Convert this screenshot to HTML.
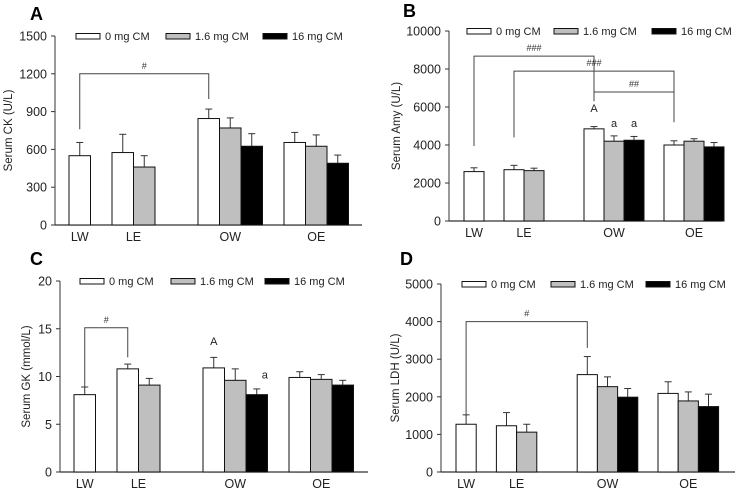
<!DOCTYPE html>
<html><head><meta charset="utf-8"><style>
html,body{margin:0;padding:0;background:#fff}
svg{display:block;font-family:"Liberation Sans",Arial,sans-serif}
</style></head><body>
<svg id="fig" width="738" height="488" viewBox="0 0 738 488"></svg>
<script>
const categories = ["LW","LE","OW","OE"];
const seriesNames = ["0 mg CM","1.6 mg CM","16 mg CM"];
// values per group, null = no bar
const ckMeans = [[550,null,null],[575,460,null],[845,770,625],[655,625,490]];
const ckErr   = [[105,null,null],[145,90,null],[75,80,100],[80,90,65]];
const amyMeans = [[2600,null,null],[2700,2650,null],[4850,4200,4250],[4000,4200,3900]];
const amyErr   = [[200,null,null],[230,130,null],[120,280,200],[220,130,230]];
const gkMeans = [[8.1,null,null],[10.8,9.1,null],[10.9,9.6,8.1],[9.9,9.7,9.1]];
const gkErr   = [[0.8,null,null],[0.5,0.7,null],[1.1,1.2,0.6],[0.6,0.5,0.5]];
const ldhMeans = [[1270,null,null],[1230,1060,null],[2590,2270,1990],[2090,1890,1740]];
const ldhErr   = [[250,null,null],[350,210,null],[480,260,230],[310,240,330]];
const ckTicks = [0,300,600,900,1200,1500];
const amyTicks = [0,2000,4000,6000,8000,10000];
const gkTicks = [0,5,10,15,20];
const ldhTicks = [0,1000,2000,3000,4000,5000];
// brackets: [groupA, barA, bottomA, groupB, barB, bottomB, top, label]
const ckBrackets = [[0,0,760,2,0,1000,1200,"#"]];
const amyBrackets = [[0,0,3950,2,0,6300,8680,"###"],[1,0,4400,3,0,5200,7890,"###"],[2,0,6790,3,0,6000,6790,"##"]];
const gkBrackets = [[0,0,8.9,1,0,12,15.1,"#"]];
const ldhBrackets = [[0,0,1500,2,0,3300,4000,"#"]];
// letters: [group, bar, value, text]
const amyLetters = [[2,0,5750,"A"],[2,1,4950,"a"],[2,2,4950,"a"]];
const gkLetters = [[2,0,13.3,"A"],[2,2,9.8,"a"]];

const NS="http://www.w3.org/2000/svg";
const svg=document.getElementById('fig');
function mk(tag,attrs,parent){const e=document.createElementNS(NS,tag);for(const k in attrs)e.setAttribute(k,attrs[k]);(parent||svg).appendChild(e);return e;}
const fills=["#ffffff","#bfbfbf","#000000"];
const slots=[[0],[2,3],[6,7,8],[10,11,12]];

function panel(p){
  const g=mk('g',{});
  
  
  const y=v=>p.y0-(v/p.max)*(p.y0-p.yt);
  const bx=(gi,bi)=>p.ax+p.off+slots[gi][bi]*p.bw;
  const t=mk('text',{x:p.lx,y:p.ly,'font-size':18,'font-weight':'bold',fill:'#000'},g);t.textContent=p.letter;
  
  
  // axes
  const ya=mk('line',{x1:p.ax,y1:p.yt,x2:p.ax,y2:p.y0,stroke:'#333','stroke-width':1},g);
  
  
  const xa=mk('line',{x1:p.ax,y1:p.y0,x2:p.xe,y2:p.y0,stroke:'#333','stroke-width':1.2},g);
  
  
  p.ticks.forEach(v=>{
    mk('line',{x1:p.ax-4,y1:y(v),x2:p.ax,y2:y(v),stroke:'#333'},g);
    const tl=mk('text',{x:p.ax-8,y:y(v)+4.5,'font-size':12.5,'text-anchor':'end',fill:'#222'},g);tl.textContent=v;
    
    
  });
  const yt=mk('text',{transform:`translate(${p.tx},${(p.yt+p.y0)/2}) rotate(-90)`,'font-size':11.5,'text-anchor':'middle',fill:'#222'},g);yt.textContent=p.title;
  
  
  // bars
  p.means.forEach((grp,gi)=>{grp.forEach((m,bi)=>{
    if(m===null)return;
    const x=bx(gi,bi),e=p.err[gi][bi];
    const cx=x+p.bw/2;
    const el=mk('line',{x1:cx,y1:y(m),x2:cx,y2:y(m+e),stroke:'#333'},g);
    
    
    mk('line',{x1:cx-3.5,y1:y(m+e),x2:cx+3.5,y2:y(m+e),stroke:'#333'},g);
    const r=mk('rect',{x:x,y:y(m),width:p.bw,height:p.y0-y(m),fill:fills[bi],stroke:'#111','stroke-width':1},g);
    
    
  });});
  // category labels
  categories.forEach((c,gi)=>{
    const s=slots[gi];const cx=p.ax+p.off+((s[0]+s[s.length-1]+1)/2)*p.bw;
    const tl=mk('text',{x:cx,y:p.y0+16,'font-size':12.5,'text-anchor':'middle',fill:'#222'},g);tl.textContent=c;
    
    
  });
  // legend
  seriesNames.forEach((n,i)=>{
    const lr=mk('rect',{x:p.leg[i],y:p.yt-2.5,width:24,height:5.5,fill:fills[i],stroke:'#111'},g);
    
    
    const lt=mk('text',{x:p.leg[i]+29,y:p.yt+4,'font-size':11,fill:'#222'},g);lt.textContent=n;
    
    
  });
  // brackets
  p.br.forEach(b=>{
    const x1=bx(b[0],b[1])+p.bw/2,x2=bx(b[3],b[4])+p.bw/2;
    const pl=mk('polyline',{points:`${x1},${y(b[2])} ${x1},${y(b[6])} ${x2},${y(b[6])} ${x2},${y(b[5])}`,fill:'none',stroke:'#444','stroke-width':1},g);
    
    
    const lt=mk('text',{x:(x1+x2)/2,y:y(b[6])-5,'font-size':9,'text-anchor':'middle',fill:'#333'},g);lt.textContent=b[7];
    
    
  });
  p.letters.forEach(l=>{
    const lt=mk('text',{x:bx(l[0],l[1])+p.bw/2+(l[3]==='a'&&l[1]===2&&p.letter==='C'?8:0),y:y(l[2]),'font-size':11,'text-anchor':'middle',fill:'#222'},g);lt.textContent=l[3];
    
    
  });
}
panel({letter:'A',lx:30,ly:20,ax:55,yt:36,y0:225,xe:362,max:1500,ticks:ckTicks,off:14,bw:21.5,tx:12,title:'Serum CK (U/L)',means:ckMeans,err:ckErr,leg:[76,166,263],br:ckBrackets,letters:[]});
panel({letter:'B',lx:403,ly:17,ax:449,yt:31,y0:221,xe:722,max:10000,ticks:amyTicks,off:15,bw:20,tx:400,title:'Serum Amy (U/L)',means:amyMeans,err:amyErr,leg:[467,554,652],br:amyBrackets,letters:amyLetters});
panel({letter:'C',lx:30,ly:265,ax:60,yt:281,y0:472,xe:368,max:20,ticks:gkTicks,off:14,bw:21.5,tx:30,title:'Serum GK (mmol/L)',means:gkMeans,err:gkErr,leg:[80,171,265],br:gkBrackets,letters:gkLetters});
panel({letter:'D',lx:400,ly:265,ax:441,yt:284,y0:472,xe:735,max:5000,ticks:ldhTicks,off:15,bw:20.2,tx:399,title:'Serum LDH (U/L)',means:ldhMeans,err:ldhErr,leg:[462,551,646],br:ldhBrackets,letters:[]});
</script>
</body></html>
